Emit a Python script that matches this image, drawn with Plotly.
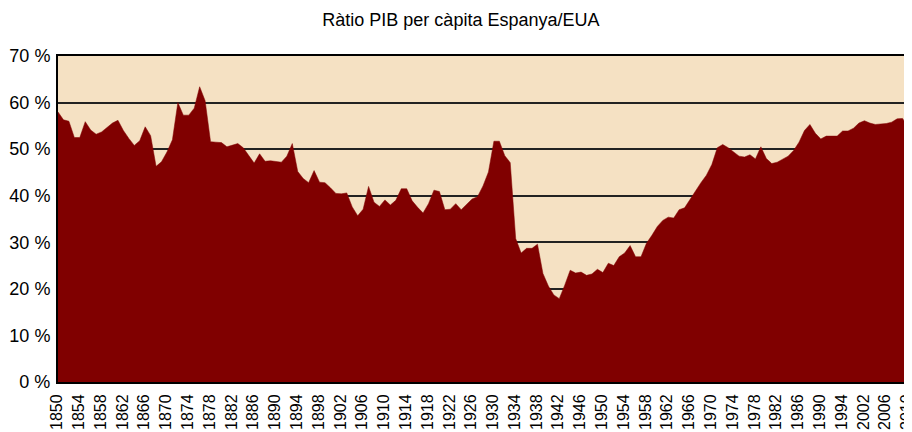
import plotly.graph_objects as go

title_text = "Ràtio PIB per càpita Espanya/EUA"

# Years shown on the category axis (1995-1998 absent in the source series)
years = [str(y) for y in range(1850, 1995)] + [str(y) for y in range(1999, 2011)]

# Ratio Spain/USA GDP per capita, in percent
ratio_pct = [
    58.0, 56.3, 56.0, 52.5, 52.5, 55.9, 54.1, 53.2, 53.7, 54.6,   # 1850-1859
    55.6, 56.2, 54.0, 52.3, 50.8, 51.8, 54.8, 52.9, 46.3, 47.3,   # 1860-1869
    49.4, 52.0, 60.0, 57.3, 57.3, 58.8, 63.4, 60.4, 51.6, 51.5,   # 1870-1879
    51.4, 50.5, 50.8, 51.2, 50.3, 48.6, 47.0, 49.0, 47.4, 47.5,   # 1880-1889
    47.4, 47.2, 48.5, 51.2, 45.2, 43.7, 42.8, 45.4, 42.9, 42.8,   # 1890-1899
    41.7, 40.5, 40.4, 40.6, 37.6, 35.7, 37.1, 42.0, 38.6, 37.7,   # 1900-1909
    39.1, 38.0, 39.0, 41.5, 41.5, 38.9, 37.5, 36.3, 38.3, 41.2,   # 1910-1919
    40.9, 37.0, 37.1, 38.3, 37.0, 38.1, 39.3, 39.8, 42.1, 45.1,   # 1920-1929
    51.7, 51.7, 48.6, 47.1, 30.8, 27.7, 28.7, 28.7, 29.6, 23.3,   # 1930-1939
    20.6, 18.7, 17.9, 20.8, 24.0, 23.4, 23.6, 22.9, 23.2, 24.2,   # 1940-1949
    23.5, 25.5, 25.0, 26.9, 27.7, 29.3, 26.9, 26.9, 29.8, 31.5,   # 1950-1959
    33.4, 34.7, 35.4, 35.2, 37.0, 37.4, 39.3, 41.1, 42.8, 44.4,   # 1960-1969
    46.7, 50.3, 51.0, 50.3, 49.4, 48.5, 48.3, 48.8, 47.9, 50.5,   # 1970-1979
    48.0, 46.9, 47.2, 47.8, 48.5, 49.7, 51.5, 54.0, 55.3, 53.4,   # 1980-1989
    52.2, 52.8, 52.8, 52.8, 53.9,                                 # 1990-1994
    53.9, 54.5, 55.6, 56.1, 55.6, 55.3, 55.4, 55.5, 55.8, 56.5,   # 1999-2008
    56.6, 54.8,                                                   # 2009-2010
]

y_ticks = [0, 10, 20, 30, 40, 50, 60, 70]
y_labels = [f"{v} %" for v in y_ticks]
x_ticks = years[::4]

font_family = "Liberation Sans, Arial, sans-serif"

fig = go.Figure()
fig.add_trace(go.Scatter(
    x=years, y=ratio_pct,
    mode="lines",
    fill="tozeroy",
    line=dict(color="#800000", width=0.5),
    fillcolor="#800000",
    hoverinfo="x+y",
    showlegend=False,
))

# The page body has an 8px margin, so the figure is sized/offset to compensate
fig.update_layout(
    width=904, height=424,
    margin=dict(l=50, r=4, t=48, b=50),
    paper_bgcolor="white",
    plot_bgcolor="#F5E1C3",
    title=dict(text=title_text, x=0.501, xanchor="center", xref="container",
               y=0.972, yanchor="middle", yref="container",
               font=dict(family=font_family, size=18, color="black")),
    font=dict(family=font_family, color="black"),
)

fig.update_xaxes(
    type="category",
    range=[0, len(years) - 1],
    tickmode="array",
    tickvals=x_ticks,
    ticktext=x_ticks,
    tickangle=-90,
    tickfont=dict(size=16, family=font_family, color="black"),
    showgrid=False,
    showline=True, linecolor="black", linewidth=2, mirror=True,
    ticks="", ticklabelstandoff=4, ticklabelshift=-1,
    zeroline=False,
    automargin=False,
)

fig.update_yaxes(
    range=[0, 70],
    tickmode="array",
    tickvals=y_ticks,
    ticktext=y_labels,
    tickfont=dict(size=18, family=font_family, color="black"),
    showgrid=True, gridcolor="#222222", gridwidth=1.5,
    showline=True, linecolor="black", linewidth=2, mirror=True,
    ticks="", ticklabelstandoff=2,
    zeroline=False,
    automargin=False,
)

fig.write_html("out.html")
